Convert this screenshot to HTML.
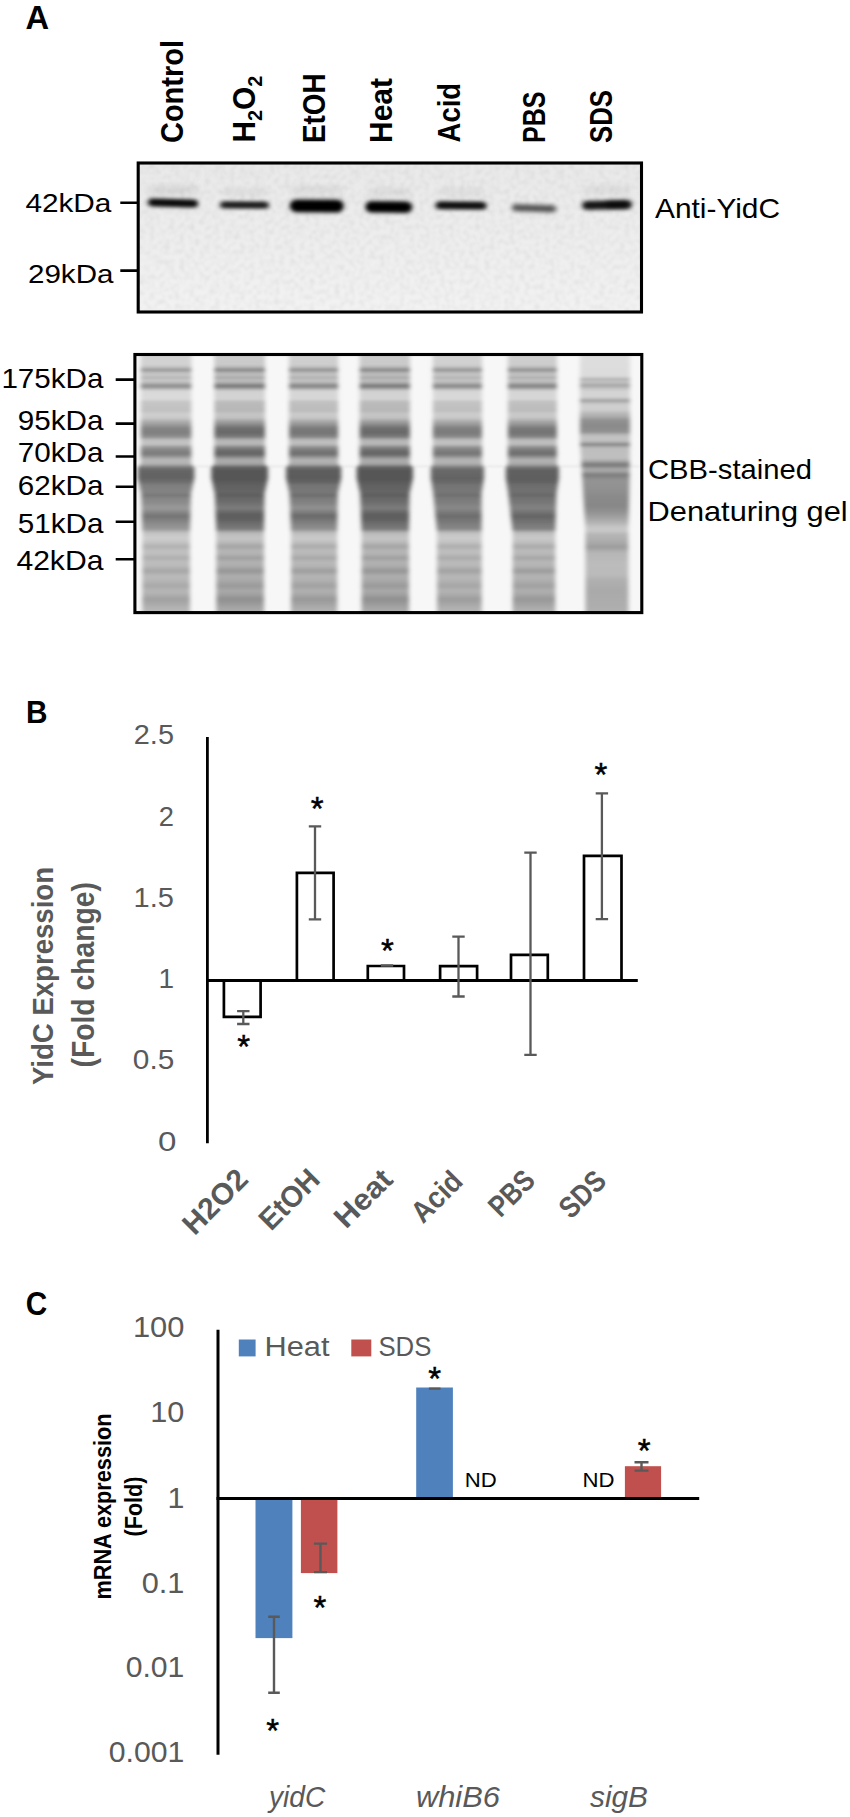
<!DOCTYPE html>
<html lang="en"><head><meta charset="utf-8"><title>Figure</title>
<style>
html,body{margin:0;padding:0;background:#fff;overflow:hidden}
svg{display:block}
text{font-family:"Liberation Sans",sans-serif}
.b{font-weight:bold}
.g{fill:#595959}
.i{font-style:italic}
</style></head><body>
<svg width="850" height="1817" viewBox="0 0 850 1817">
<defs>
<filter id="bl1" x="-20%" y="-150%" width="140%" height="400%"><feGaussianBlur stdDeviation="2.6 1.9"/></filter>
<filter id="bl2" x="-30%" y="-300%" width="160%" height="700%"><feGaussianBlur stdDeviation="4 3"/></filter>
<filter id="bl3" x="-5%" y="-5%" width="110%" height="110%"><feGaussianBlur stdDeviation="1.9 1.3"/></filter>
<filter id="bl4" x="-20%" y="-50%" width="140%" height="200%"><feGaussianBlur stdDeviation="2.5 1.5"/></filter>
<filter id="noise" x="0" y="0" width="100%" height="100%">
<feTurbulence type="fractalNoise" baseFrequency="0.2" numOctaves="2" seed="4" result="n"/>
<feColorMatrix in="n" type="matrix" values="0 0 0 0 0  0 0 0 0 0  0 0 0 0 0  1.6 0 0 0 -0.62"/><feGaussianBlur stdDeviation="1.0"/>
</filter>
<linearGradient id="bg1" x1="0" y1="0" x2="0" y2="1"><stop offset="0" stop-color="#e9e9e9"/><stop offset="0.45" stop-color="#ededed"/><stop offset="1" stop-color="#f2f2f2"/></linearGradient>
<clipPath id="c1"><rect x="138.2" y="163" width="503.3" height="149"/></clipPath>
<clipPath id="c2"><rect x="134.9" y="354.5" width="506.9" height="258.1"/></clipPath>
<linearGradient id="lg1" gradientUnits="userSpaceOnUse" x1="0" y1="354.5" x2="0" y2="612.6"><stop offset="0.0019" stop-color="#d3d3d3"/><stop offset="0.0407" stop-color="#d2d2d2"/><stop offset="0.0504" stop-color="#bcbcbc"/><stop offset="0.0601" stop-color="#969696"/><stop offset="0.0697" stop-color="#bcbcbc"/><stop offset="0.0794" stop-color="#cacaca"/><stop offset="0.0899" stop-color="#b5b5b5"/><stop offset="0.1007" stop-color="#cacaca"/><stop offset="0.1104" stop-color="#b5b5b5"/><stop offset="0.1220" stop-color="#898989"/><stop offset="0.1337" stop-color="#b5b5b5"/><stop offset="0.1414" stop-color="#d9d9d9"/><stop offset="0.1724" stop-color="#dadada"/><stop offset="0.1840" stop-color="#c5c5c5"/><stop offset="0.2189" stop-color="#c1c1c1"/><stop offset="0.2305" stop-color="#d0d0d0"/><stop offset="0.2460" stop-color="#cacaca"/><stop offset="0.2577" stop-color="#b1b1b1"/><stop offset="0.2731" stop-color="#9a9a9a"/><stop offset="0.2848" stop-color="#858585"/><stop offset="0.3041" stop-color="#7f7f7f"/><stop offset="0.3196" stop-color="#919191"/><stop offset="0.3313" stop-color="#c0c0c0"/><stop offset="0.3468" stop-color="#c5c5c5"/><stop offset="0.3584" stop-color="#9a9a9a"/><stop offset="0.3700" stop-color="#858585"/><stop offset="0.3855" stop-color="#7a7a7a"/><stop offset="0.3971" stop-color="#9a9a9a"/><stop offset="0.4088" stop-color="#bababa"/><stop offset="0.4243" stop-color="#b1b1b1"/><stop offset="0.4359" stop-color="#7d7d7d"/><stop offset="0.4475" stop-color="#666666"/><stop offset="0.4785" stop-color="#636363"/><stop offset="0.4940" stop-color="#6e6e6e"/><stop offset="0.5056" stop-color="#7f7f7f"/><stop offset="0.5327" stop-color="#848484"/><stop offset="0.5459" stop-color="#777777"/><stop offset="0.5560" stop-color="#858585"/><stop offset="0.5754" stop-color="#8d8d8d"/><stop offset="0.5947" stop-color="#9a9a9a"/><stop offset="0.6102" stop-color="#888888"/><stop offset="0.6257" stop-color="#747474"/><stop offset="0.6412" stop-color="#808080"/><stop offset="0.6567" stop-color="#8d8d8d"/><stop offset="0.6761" stop-color="#999999"/><stop offset="0.6916" stop-color="#c3c3c3"/><stop offset="0.7110" stop-color="#cecece"/><stop offset="0.7265" stop-color="#c5c5c5"/><stop offset="0.7439" stop-color="#b1b1b1"/><stop offset="0.7613" stop-color="#c1c1c1"/><stop offset="0.7730" stop-color="#bebebe"/><stop offset="0.7885" stop-color="#aeaeae"/><stop offset="0.8040" stop-color="#bebebe"/><stop offset="0.8194" stop-color="#bababa"/><stop offset="0.8388" stop-color="#a5a5a5"/><stop offset="0.8582" stop-color="#bababa"/><stop offset="0.8737" stop-color="#b7b7b7"/><stop offset="0.8969" stop-color="#a8a8a8"/><stop offset="0.9163" stop-color="#b7b7b7"/><stop offset="0.9318" stop-color="#aeaeae"/><stop offset="0.9473" stop-color="#a0a0a0"/><stop offset="0.9667" stop-color="#aaaaaa"/><stop offset="0.9822" stop-color="#b3b3b3"/><stop offset="1.0015" stop-color="#b9b9b9"/></linearGradient>
<linearGradient id="lg2" gradientUnits="userSpaceOnUse" x1="0" y1="354.5" x2="0" y2="612.6"><stop offset="0.0019" stop-color="#cccccc"/><stop offset="0.0407" stop-color="#cacaca"/><stop offset="0.0504" stop-color="#b0b0b0"/><stop offset="0.0601" stop-color="#848484"/><stop offset="0.0697" stop-color="#b0b0b0"/><stop offset="0.0794" stop-color="#c0c0c0"/><stop offset="0.0899" stop-color="#a8a8a8"/><stop offset="0.1007" stop-color="#c0c0c0"/><stop offset="0.1104" stop-color="#a8a8a8"/><stop offset="0.1220" stop-color="#747474"/><stop offset="0.1337" stop-color="#a8a8a8"/><stop offset="0.1414" stop-color="#d2d2d2"/><stop offset="0.1724" stop-color="#d4d4d4"/><stop offset="0.1840" stop-color="#bbbbbb"/><stop offset="0.2189" stop-color="#b7b7b7"/><stop offset="0.2305" stop-color="#c7c7c7"/><stop offset="0.2460" stop-color="#c1c1c1"/><stop offset="0.2577" stop-color="#a4a4a4"/><stop offset="0.2731" stop-color="#888888"/><stop offset="0.2848" stop-color="#6f6f6f"/><stop offset="0.3041" stop-color="#696969"/><stop offset="0.3196" stop-color="#7d7d7d"/><stop offset="0.3313" stop-color="#b4b4b4"/><stop offset="0.3468" stop-color="#bbbbbb"/><stop offset="0.3584" stop-color="#888888"/><stop offset="0.3700" stop-color="#6f6f6f"/><stop offset="0.3855" stop-color="#626262"/><stop offset="0.3971" stop-color="#888888"/><stop offset="0.4088" stop-color="#aeaeae"/><stop offset="0.4243" stop-color="#a4a4a4"/><stop offset="0.4359" stop-color="#666666"/><stop offset="0.4475" stop-color="#585858"/><stop offset="0.4785" stop-color="#565656"/><stop offset="0.4940" stop-color="#5a5a5a"/><stop offset="0.5056" stop-color="#616161"/><stop offset="0.5327" stop-color="#666666"/><stop offset="0.5459" stop-color="#5e5e5e"/><stop offset="0.5560" stop-color="#676767"/><stop offset="0.5754" stop-color="#6f6f6f"/><stop offset="0.5947" stop-color="#7d7d7d"/><stop offset="0.6102" stop-color="#6a6a6a"/><stop offset="0.6257" stop-color="#5c5c5c"/><stop offset="0.6412" stop-color="#626262"/><stop offset="0.6567" stop-color="#6f6f6f"/><stop offset="0.6761" stop-color="#7b7b7b"/><stop offset="0.6916" stop-color="#b9b9b9"/><stop offset="0.7110" stop-color="#c5c5c5"/><stop offset="0.7265" stop-color="#bbbbbb"/><stop offset="0.7439" stop-color="#a4a4a4"/><stop offset="0.7613" stop-color="#b7b7b7"/><stop offset="0.7730" stop-color="#b2b2b2"/><stop offset="0.7885" stop-color="#9f9f9f"/><stop offset="0.8040" stop-color="#b2b2b2"/><stop offset="0.8194" stop-color="#aeaeae"/><stop offset="0.8388" stop-color="#959595"/><stop offset="0.8582" stop-color="#aeaeae"/><stop offset="0.8737" stop-color="#aaaaaa"/><stop offset="0.8969" stop-color="#999999"/><stop offset="0.9163" stop-color="#aaaaaa"/><stop offset="0.9318" stop-color="#9f9f9f"/><stop offset="0.9473" stop-color="#8f8f8f"/><stop offset="0.9667" stop-color="#9b9b9b"/><stop offset="0.9822" stop-color="#a6a6a6"/><stop offset="1.0015" stop-color="#acacac"/></linearGradient>
<linearGradient id="lg3" gradientUnits="userSpaceOnUse" x1="0" y1="354.5" x2="0" y2="612.6"><stop offset="0.0019" stop-color="#d0d0d0"/><stop offset="0.0407" stop-color="#cecece"/><stop offset="0.0504" stop-color="#b7b7b7"/><stop offset="0.0601" stop-color="#8e8e8e"/><stop offset="0.0697" stop-color="#b7b7b7"/><stop offset="0.0794" stop-color="#c5c5c5"/><stop offset="0.0899" stop-color="#afafaf"/><stop offset="0.1007" stop-color="#c5c5c5"/><stop offset="0.1104" stop-color="#afafaf"/><stop offset="0.1220" stop-color="#7f7f7f"/><stop offset="0.1337" stop-color="#afafaf"/><stop offset="0.1414" stop-color="#d6d6d6"/><stop offset="0.1724" stop-color="#d7d7d7"/><stop offset="0.1840" stop-color="#c0c0c0"/><stop offset="0.2189" stop-color="#bcbcbc"/><stop offset="0.2305" stop-color="#cccccc"/><stop offset="0.2460" stop-color="#c6c6c6"/><stop offset="0.2577" stop-color="#ababab"/><stop offset="0.2731" stop-color="#929292"/><stop offset="0.2848" stop-color="#7b7b7b"/><stop offset="0.3041" stop-color="#757575"/><stop offset="0.3196" stop-color="#878787"/><stop offset="0.3313" stop-color="#bababa"/><stop offset="0.3468" stop-color="#c0c0c0"/><stop offset="0.3584" stop-color="#929292"/><stop offset="0.3700" stop-color="#7b7b7b"/><stop offset="0.3855" stop-color="#6e6e6e"/><stop offset="0.3971" stop-color="#929292"/><stop offset="0.4088" stop-color="#b5b5b5"/><stop offset="0.4243" stop-color="#ababab"/><stop offset="0.4359" stop-color="#737373"/><stop offset="0.4475" stop-color="#5e5e5e"/><stop offset="0.4785" stop-color="#5c5c5c"/><stop offset="0.4940" stop-color="#626262"/><stop offset="0.5056" stop-color="#747474"/><stop offset="0.5327" stop-color="#797979"/><stop offset="0.5459" stop-color="#6c6c6c"/><stop offset="0.5560" stop-color="#7b7b7b"/><stop offset="0.5754" stop-color="#838383"/><stop offset="0.5947" stop-color="#929292"/><stop offset="0.6102" stop-color="#7e7e7e"/><stop offset="0.6257" stop-color="#696969"/><stop offset="0.6412" stop-color="#767676"/><stop offset="0.6567" stop-color="#838383"/><stop offset="0.6761" stop-color="#909090"/><stop offset="0.6916" stop-color="#bebebe"/><stop offset="0.7110" stop-color="#cacaca"/><stop offset="0.7265" stop-color="#c0c0c0"/><stop offset="0.7439" stop-color="#ababab"/><stop offset="0.7613" stop-color="#bcbcbc"/><stop offset="0.7730" stop-color="#b8b8b8"/><stop offset="0.7885" stop-color="#a7a7a7"/><stop offset="0.8040" stop-color="#b8b8b8"/><stop offset="0.8194" stop-color="#b5b5b5"/><stop offset="0.8388" stop-color="#9d9d9d"/><stop offset="0.8582" stop-color="#b5b5b5"/><stop offset="0.8737" stop-color="#b1b1b1"/><stop offset="0.8969" stop-color="#a1a1a1"/><stop offset="0.9163" stop-color="#b1b1b1"/><stop offset="0.9318" stop-color="#a7a7a7"/><stop offset="0.9473" stop-color="#989898"/><stop offset="0.9667" stop-color="#a3a3a3"/><stop offset="0.9822" stop-color="#adadad"/><stop offset="1.0015" stop-color="#b3b3b3"/></linearGradient>
<linearGradient id="lg4" gradientUnits="userSpaceOnUse" x1="0" y1="354.5" x2="0" y2="612.6"><stop offset="0.0019" stop-color="#cccccc"/><stop offset="0.0407" stop-color="#cacaca"/><stop offset="0.0504" stop-color="#b0b0b0"/><stop offset="0.0601" stop-color="#848484"/><stop offset="0.0697" stop-color="#b0b0b0"/><stop offset="0.0794" stop-color="#c0c0c0"/><stop offset="0.0899" stop-color="#a8a8a8"/><stop offset="0.1007" stop-color="#c0c0c0"/><stop offset="0.1104" stop-color="#a8a8a8"/><stop offset="0.1220" stop-color="#747474"/><stop offset="0.1337" stop-color="#a8a8a8"/><stop offset="0.1414" stop-color="#d2d2d2"/><stop offset="0.1724" stop-color="#d4d4d4"/><stop offset="0.1840" stop-color="#bbbbbb"/><stop offset="0.2189" stop-color="#b7b7b7"/><stop offset="0.2305" stop-color="#c7c7c7"/><stop offset="0.2460" stop-color="#c1c1c1"/><stop offset="0.2577" stop-color="#a4a4a4"/><stop offset="0.2731" stop-color="#888888"/><stop offset="0.2848" stop-color="#6f6f6f"/><stop offset="0.3041" stop-color="#696969"/><stop offset="0.3196" stop-color="#7d7d7d"/><stop offset="0.3313" stop-color="#b4b4b4"/><stop offset="0.3468" stop-color="#bbbbbb"/><stop offset="0.3584" stop-color="#888888"/><stop offset="0.3700" stop-color="#6f6f6f"/><stop offset="0.3855" stop-color="#626262"/><stop offset="0.3971" stop-color="#888888"/><stop offset="0.4088" stop-color="#aeaeae"/><stop offset="0.4243" stop-color="#a4a4a4"/><stop offset="0.4359" stop-color="#666666"/><stop offset="0.4475" stop-color="#585858"/><stop offset="0.4785" stop-color="#565656"/><stop offset="0.4940" stop-color="#5a5a5a"/><stop offset="0.5056" stop-color="#616161"/><stop offset="0.5327" stop-color="#666666"/><stop offset="0.5459" stop-color="#5e5e5e"/><stop offset="0.5560" stop-color="#676767"/><stop offset="0.5754" stop-color="#6f6f6f"/><stop offset="0.5947" stop-color="#7d7d7d"/><stop offset="0.6102" stop-color="#6a6a6a"/><stop offset="0.6257" stop-color="#5c5c5c"/><stop offset="0.6412" stop-color="#626262"/><stop offset="0.6567" stop-color="#6f6f6f"/><stop offset="0.6761" stop-color="#7b7b7b"/><stop offset="0.6916" stop-color="#b9b9b9"/><stop offset="0.7110" stop-color="#c5c5c5"/><stop offset="0.7265" stop-color="#bbbbbb"/><stop offset="0.7439" stop-color="#a4a4a4"/><stop offset="0.7613" stop-color="#b7b7b7"/><stop offset="0.7730" stop-color="#b2b2b2"/><stop offset="0.7885" stop-color="#9f9f9f"/><stop offset="0.8040" stop-color="#b2b2b2"/><stop offset="0.8194" stop-color="#aeaeae"/><stop offset="0.8388" stop-color="#959595"/><stop offset="0.8582" stop-color="#aeaeae"/><stop offset="0.8737" stop-color="#aaaaaa"/><stop offset="0.8969" stop-color="#999999"/><stop offset="0.9163" stop-color="#aaaaaa"/><stop offset="0.9318" stop-color="#9f9f9f"/><stop offset="0.9473" stop-color="#8f8f8f"/><stop offset="0.9667" stop-color="#9b9b9b"/><stop offset="0.9822" stop-color="#a6a6a6"/><stop offset="1.0015" stop-color="#acacac"/></linearGradient>
<linearGradient id="lg5" gradientUnits="userSpaceOnUse" x1="0" y1="354.5" x2="0" y2="612.6"><stop offset="0.0019" stop-color="#d2d2d2"/><stop offset="0.0407" stop-color="#d0d0d0"/><stop offset="0.0504" stop-color="#b9b9b9"/><stop offset="0.0601" stop-color="#929292"/><stop offset="0.0697" stop-color="#b9b9b9"/><stop offset="0.0794" stop-color="#c7c7c7"/><stop offset="0.0899" stop-color="#b2b2b2"/><stop offset="0.1007" stop-color="#c7c7c7"/><stop offset="0.1104" stop-color="#b2b2b2"/><stop offset="0.1220" stop-color="#848484"/><stop offset="0.1337" stop-color="#b2b2b2"/><stop offset="0.1414" stop-color="#d7d7d7"/><stop offset="0.1724" stop-color="#d9d9d9"/><stop offset="0.1840" stop-color="#c3c3c3"/><stop offset="0.2189" stop-color="#bfbfbf"/><stop offset="0.2305" stop-color="#cecece"/><stop offset="0.2460" stop-color="#c8c8c8"/><stop offset="0.2577" stop-color="#aeaeae"/><stop offset="0.2731" stop-color="#969696"/><stop offset="0.2848" stop-color="#808080"/><stop offset="0.3041" stop-color="#7a7a7a"/><stop offset="0.3196" stop-color="#8c8c8c"/><stop offset="0.3313" stop-color="#bdbdbd"/><stop offset="0.3468" stop-color="#c3c3c3"/><stop offset="0.3584" stop-color="#969696"/><stop offset="0.3700" stop-color="#808080"/><stop offset="0.3855" stop-color="#747474"/><stop offset="0.3971" stop-color="#969696"/><stop offset="0.4088" stop-color="#b7b7b7"/><stop offset="0.4243" stop-color="#aeaeae"/><stop offset="0.4359" stop-color="#808080"/><stop offset="0.4475" stop-color="#686868"/><stop offset="0.4785" stop-color="#646464"/><stop offset="0.4940" stop-color="#676767"/><stop offset="0.5056" stop-color="#747474"/><stop offset="0.5327" stop-color="#787878"/><stop offset="0.5459" stop-color="#6e6e6e"/><stop offset="0.5560" stop-color="#797979"/><stop offset="0.5754" stop-color="#7f7f7f"/><stop offset="0.5947" stop-color="#898989"/><stop offset="0.6102" stop-color="#7b7b7b"/><stop offset="0.6257" stop-color="#6c6c6c"/><stop offset="0.6412" stop-color="#757575"/><stop offset="0.6567" stop-color="#7f7f7f"/><stop offset="0.6761" stop-color="#888888"/><stop offset="0.6916" stop-color="#c1c1c1"/><stop offset="0.7110" stop-color="#cccccc"/><stop offset="0.7265" stop-color="#c3c3c3"/><stop offset="0.7439" stop-color="#aeaeae"/><stop offset="0.7613" stop-color="#bfbfbf"/><stop offset="0.7730" stop-color="#bbbbbb"/><stop offset="0.7885" stop-color="#aaaaaa"/><stop offset="0.8040" stop-color="#bbbbbb"/><stop offset="0.8194" stop-color="#b7b7b7"/><stop offset="0.8388" stop-color="#a1a1a1"/><stop offset="0.8582" stop-color="#b7b7b7"/><stop offset="0.8737" stop-color="#b4b4b4"/><stop offset="0.8969" stop-color="#a5a5a5"/><stop offset="0.9163" stop-color="#b4b4b4"/><stop offset="0.9318" stop-color="#aaaaaa"/><stop offset="0.9473" stop-color="#9c9c9c"/><stop offset="0.9667" stop-color="#a7a7a7"/><stop offset="0.9822" stop-color="#b0b0b0"/><stop offset="1.0015" stop-color="#b6b6b6"/></linearGradient>
<linearGradient id="lg6" gradientUnits="userSpaceOnUse" x1="0" y1="354.5" x2="0" y2="612.6"><stop offset="0.0019" stop-color="#cfcfcf"/><stop offset="0.0407" stop-color="#cdcdcd"/><stop offset="0.0504" stop-color="#b6b6b6"/><stop offset="0.0601" stop-color="#8d8d8d"/><stop offset="0.0697" stop-color="#b6b6b6"/><stop offset="0.0794" stop-color="#c5c5c5"/><stop offset="0.0899" stop-color="#aeaeae"/><stop offset="0.1007" stop-color="#c5c5c5"/><stop offset="0.1104" stop-color="#aeaeae"/><stop offset="0.1220" stop-color="#7e7e7e"/><stop offset="0.1337" stop-color="#aeaeae"/><stop offset="0.1414" stop-color="#d5d5d5"/><stop offset="0.1724" stop-color="#d7d7d7"/><stop offset="0.1840" stop-color="#c0c0c0"/><stop offset="0.2189" stop-color="#bcbcbc"/><stop offset="0.2305" stop-color="#cbcbcb"/><stop offset="0.2460" stop-color="#c5c5c5"/><stop offset="0.2577" stop-color="#aaaaaa"/><stop offset="0.2731" stop-color="#919191"/><stop offset="0.2848" stop-color="#7a7a7a"/><stop offset="0.3041" stop-color="#737373"/><stop offset="0.3196" stop-color="#868686"/><stop offset="0.3313" stop-color="#bababa"/><stop offset="0.3468" stop-color="#c0c0c0"/><stop offset="0.3584" stop-color="#919191"/><stop offset="0.3700" stop-color="#7a7a7a"/><stop offset="0.3855" stop-color="#6d6d6d"/><stop offset="0.3971" stop-color="#919191"/><stop offset="0.4088" stop-color="#b4b4b4"/><stop offset="0.4243" stop-color="#aaaaaa"/><stop offset="0.4359" stop-color="#7a7a7a"/><stop offset="0.4475" stop-color="#616161"/><stop offset="0.4785" stop-color="#5f5f5f"/><stop offset="0.4940" stop-color="#616161"/><stop offset="0.5056" stop-color="#6d6d6d"/><stop offset="0.5327" stop-color="#717171"/><stop offset="0.5459" stop-color="#676767"/><stop offset="0.5560" stop-color="#727272"/><stop offset="0.5754" stop-color="#787878"/><stop offset="0.5947" stop-color="#838383"/><stop offset="0.6102" stop-color="#757575"/><stop offset="0.6257" stop-color="#646464"/><stop offset="0.6412" stop-color="#6e6e6e"/><stop offset="0.6567" stop-color="#787878"/><stop offset="0.6761" stop-color="#828282"/><stop offset="0.6916" stop-color="#bebebe"/><stop offset="0.7110" stop-color="#c9c9c9"/><stop offset="0.7265" stop-color="#c0c0c0"/><stop offset="0.7439" stop-color="#aaaaaa"/><stop offset="0.7613" stop-color="#bcbcbc"/><stop offset="0.7730" stop-color="#b8b8b8"/><stop offset="0.7885" stop-color="#a6a6a6"/><stop offset="0.8040" stop-color="#b8b8b8"/><stop offset="0.8194" stop-color="#b4b4b4"/><stop offset="0.8388" stop-color="#9c9c9c"/><stop offset="0.8582" stop-color="#b4b4b4"/><stop offset="0.8737" stop-color="#b0b0b0"/><stop offset="0.8969" stop-color="#a0a0a0"/><stop offset="0.9163" stop-color="#b0b0b0"/><stop offset="0.9318" stop-color="#a6a6a6"/><stop offset="0.9473" stop-color="#979797"/><stop offset="0.9667" stop-color="#a2a2a2"/><stop offset="0.9822" stop-color="#acacac"/><stop offset="1.0015" stop-color="#b2b2b2"/></linearGradient>
<linearGradient id="lg7" gradientUnits="userSpaceOnUse" x1="0" y1="354.5" x2="0" y2="612.6"><stop offset="0.0019" stop-color="#dedede"/><stop offset="0.0833" stop-color="#dcdcdc"/><stop offset="0.0910" stop-color="#c4c4c4"/><stop offset="0.0969" stop-color="#b2b2b2"/><stop offset="0.1027" stop-color="#c4c4c4"/><stop offset="0.1104" stop-color="#bcbcbc"/><stop offset="0.1197" stop-color="#a6a6a6"/><stop offset="0.1298" stop-color="#bebebe"/><stop offset="0.1414" stop-color="#d4d4d4"/><stop offset="0.1647" stop-color="#d4d4d4"/><stop offset="0.1724" stop-color="#bababa"/><stop offset="0.1790" stop-color="#9e9e9e"/><stop offset="0.1860" stop-color="#bababa"/><stop offset="0.1957" stop-color="#d0d0d0"/><stop offset="0.2150" stop-color="#cecece"/><stop offset="0.2267" stop-color="#bababa"/><stop offset="0.2422" stop-color="#aaaaaa"/><stop offset="0.2538" stop-color="#929292"/><stop offset="0.2770" stop-color="#8a8a8a"/><stop offset="0.3003" stop-color="#929292"/><stop offset="0.3100" stop-color="#b4b4b4"/><stop offset="0.3196" stop-color="#c4c4c4"/><stop offset="0.3351" stop-color="#c0c0c0"/><stop offset="0.3429" stop-color="#a0a0a0"/><stop offset="0.3487" stop-color="#868686"/><stop offset="0.3545" stop-color="#a0a0a0"/><stop offset="0.3642" stop-color="#bebebe"/><stop offset="0.4010" stop-color="#c0c0c0"/><stop offset="0.4126" stop-color="#aaaaaa"/><stop offset="0.4204" stop-color="#8a8a8a"/><stop offset="0.4281" stop-color="#7a7a7a"/><stop offset="0.4359" stop-color="#8c8c8c"/><stop offset="0.4436" stop-color="#a8a8a8"/><stop offset="0.4533" stop-color="#a4a4a4"/><stop offset="0.4611" stop-color="#888888"/><stop offset="0.4688" stop-color="#7e7e7e"/><stop offset="0.4785" stop-color="#8c8c8c"/><stop offset="0.4901" stop-color="#949494"/><stop offset="0.5250" stop-color="#909090"/><stop offset="0.5521" stop-color="#8a8a8a"/><stop offset="0.5870" stop-color="#888888"/><stop offset="0.6102" stop-color="#929292"/><stop offset="0.6335" stop-color="#a4a4a4"/><stop offset="0.6528" stop-color="#b4b4b4"/><stop offset="0.6683" stop-color="#c6c6c6"/><stop offset="0.6838" stop-color="#c8c8c8"/><stop offset="0.6955" stop-color="#b6b6b6"/><stop offset="0.7187" stop-color="#aeaeae"/><stop offset="0.7342" stop-color="#a6a6a6"/><stop offset="0.7458" stop-color="#9c9c9c"/><stop offset="0.7575" stop-color="#aaaaaa"/><stop offset="0.7691" stop-color="#b6b6b6"/><stop offset="0.8156" stop-color="#bcbcbc"/><stop offset="0.8543" stop-color="#bababa"/><stop offset="0.8737" stop-color="#b0b0b0"/><stop offset="0.9124" stop-color="#aaaaaa"/><stop offset="0.9512" stop-color="#acacac"/><stop offset="1.0015" stop-color="#b0b0b0"/></linearGradient>
</defs>
<text class="b" x="25.4" y="28.5" font-size="34" textLength="23.6" lengthAdjust="spacingAndGlyphs">A</text>
<text class="b" transform="translate(183.3 143.0) rotate(-90)" font-size="31" textLength="103.0" lengthAdjust="spacingAndGlyphs">Control</text>
<text class="b" transform="translate(255.1 142.6) rotate(-90)" font-size="31" textLength="67" lengthAdjust="spacingAndGlyphs">H<tspan font-size="20.5" dy="7">2</tspan><tspan dy="-7">O</tspan><tspan font-size="20.5" dy="7">2</tspan></text>
<text class="b" transform="translate(325.0 143.0) rotate(-90)" font-size="31" textLength="69.5" lengthAdjust="spacingAndGlyphs">EtOH</text>
<text class="b" transform="translate(392.0 143.0) rotate(-90)" font-size="31" textLength="65.0" lengthAdjust="spacingAndGlyphs">Heat</text>
<text class="b" transform="translate(460.3 142.4) rotate(-90)" font-size="31" textLength="59.5" lengthAdjust="spacingAndGlyphs">Acid</text>
<text class="b" transform="translate(544.7 143.0) rotate(-90)" font-size="31" textLength="51.5" lengthAdjust="spacingAndGlyphs">PBS</text>
<text class="b" transform="translate(611.6 143.0) rotate(-90)" font-size="31" textLength="53.0" lengthAdjust="spacingAndGlyphs">SDS</text>
<rect x="138.2" y="163" width="503.3" height="149" fill="url(#bg1)"/>
<g clip-path="url(#c1)">
<rect x="138.2" y="163" width="503.3" height="149" filter="url(#noise)" fill="#000" opacity="0.07"/>
<rect x="150.0" y="186.0" width="46.0" height="8.0" fill="#000" opacity="0.09" filter="url(#bl2)"/>
<rect x="222.0" y="188.5" width="46.0" height="7.0" fill="#000" opacity="0.06" filter="url(#bl2)"/>
<rect x="292.0" y="186.5" width="50.0" height="7.0" fill="#000" opacity="0.08" filter="url(#bl2)"/>
<rect x="368.0" y="188.5" width="42.0" height="7.0" fill="#000" opacity="0.07" filter="url(#bl2)"/>
<rect x="438.0" y="188.5" width="46.0" height="7.0" fill="#000" opacity="0.06" filter="url(#bl2)"/>
<rect x="585.0" y="186.5" width="45.0" height="7.0" fill="#000" opacity="0.07" filter="url(#bl2)"/>
<rect x="148.0" y="199.5" width="50.0" height="7.0" rx="3.5" fill="#000" opacity="1.00" filter="url(#bl1)" transform="rotate(1.60 173.0 203.0)"/>
<rect x="151.0" y="201.2" width="44.0" height="3.5" rx="1.8" fill="#000" opacity="0.70" filter="url(#bl1)" transform="rotate(1.60 173.0 203.0)"/>
<rect x="220.0" y="201.9" width="49.0" height="6.2" rx="3.1" fill="#000" opacity="0.90" filter="url(#bl1)" transform="rotate(0.30 244.5 205.0)"/>
<rect x="223.0" y="203.4" width="43.0" height="3.1" rx="1.6" fill="#000" opacity="0.70" filter="url(#bl1)" transform="rotate(0.30 244.5 205.0)"/>
<rect x="290.0" y="199.8" width="53.5" height="12.5" rx="6.2" fill="#000" opacity="1.00" filter="url(#bl1)" transform="rotate(0.30 316.8 206.0)"/>
<rect x="293.0" y="202.9" width="47.5" height="6.2" rx="3.1" fill="#000" opacity="0.70" filter="url(#bl1)" transform="rotate(0.30 316.8 206.0)"/>
<rect x="365.5" y="201.5" width="46.5" height="11.0" rx="5.5" fill="#000" opacity="1.00" filter="url(#bl1)" transform="rotate(0.60 388.8 207.0)"/>
<rect x="368.5" y="204.2" width="40.5" height="5.5" rx="2.8" fill="#000" opacity="0.70" filter="url(#bl1)" transform="rotate(0.60 388.8 207.0)"/>
<rect x="435.5" y="202.1" width="51.0" height="7.0" rx="3.5" fill="#000" opacity="0.95" filter="url(#bl1)" transform="rotate(0.50 461.0 205.6)"/>
<rect x="438.5" y="203.8" width="45.0" height="3.5" rx="1.8" fill="#000" opacity="0.70" filter="url(#bl1)" transform="rotate(0.50 461.0 205.6)"/>
<rect x="512.0" y="204.7" width="44.0" height="7.0" rx="3.5" fill="#000" opacity="0.66" filter="url(#bl1)" transform="rotate(1.80 534.0 208.2)"/>
<rect x="582.0" y="200.8" width="50.0" height="8.5" rx="4.2" fill="#000" opacity="0.85" filter="url(#bl1)" transform="rotate(-1.20 607.0 205.0)"/>
<rect x="585.0" y="202.9" width="44.0" height="4.2" rx="2.1" fill="#000" opacity="0.70" filter="url(#bl1)" transform="rotate(-1.20 607.0 205.0)"/>
<rect x="606" y="201.5" width="22" height="6" rx="3" fill="#000" opacity="0.55" filter="url(#bl1)"/>
</g>
<rect x="138.2" y="163" width="503.3" height="149" fill="none" stroke="#000" stroke-width="3.1"/>
<path d="M120.3 202.8H137M120.3 270.6H137" stroke="#000" stroke-width="2.6" fill="none"/>
<text x="111.4" y="211.6" font-size="26.6" text-anchor="end" textLength="86" lengthAdjust="spacingAndGlyphs">42kDa</text>
<text x="113.4" y="282.5" font-size="26.6" text-anchor="end" textLength="85.4" lengthAdjust="spacingAndGlyphs">29kDa</text>
<text x="655" y="217.8" font-size="27.8" textLength="125" lengthAdjust="spacingAndGlyphs">Anti-YidC</text>
<rect x="134.9" y="354.5" width="506.9" height="258.1" fill="#f7f7f7"/>
<g clip-path="url(#c2)"><g filter="url(#bl3)">
<rect x="136" y="465.6" width="504" height="1.6" fill="#000" opacity="0.07"/>
<path d="M140.7 352.0L140.7 463.0L137.7 468.0L137.7 478.0L141.2 494.0L142.3 532.0L142.3 615.0L190.0 615.0L190.0 532.0L190.9 494.0L194.4 478.0L194.4 468.0L191.4 463.0L191.4 352.0Z" fill="url(#lg1)"/>
<path d="M214.3 352.0L214.3 463.0L211.3 468.0L211.3 478.0L214.8 494.0L216.3 532.0L216.3 615.0L264.0 615.0L264.0 532.0L264.5 494.0L268.0 478.0L268.0 468.0L265.0 463.0L265.0 352.0Z" fill="url(#lg2)"/>
<path d="M289.0 352.0L289.0 463.0L286.0 468.0L286.0 478.0L289.5 494.0L291.0 532.0L291.0 615.0L337.2 615.0L337.2 532.0L337.7 494.0L341.2 478.0L341.2 468.0L338.2 463.0L338.2 352.0Z" fill="url(#lg3)"/>
<path d="M359.6 352.0L359.6 463.0L356.6 468.0L356.6 478.0L360.1 494.0L361.6 532.0L361.6 615.0L409.0 615.0L409.0 532.0L409.5 494.0L413.0 478.0L413.0 468.0L410.0 463.0L410.0 352.0Z" fill="url(#lg4)"/>
<path d="M432.8 352.0L432.8 463.0L430.8 468.0L430.8 478.0L433.3 494.0L437.0 532.0L437.0 615.0L481.7 615.0L481.7 532.0L481.5 494.0L484.0 478.0L484.0 468.0L482.0 463.0L482.0 352.0Z" fill="url(#lg5)"/>
<path d="M507.8 352.0L507.8 463.0L505.8 468.0L505.8 478.0L508.3 494.0L512.6 532.0L512.6 615.0L555.3 615.0L555.3 532.0L556.4 494.0L558.9 478.0L558.9 468.0L556.9 463.0L556.9 352.0Z" fill="url(#lg6)"/>
<path d="M579.9 352.0L579.9 440.0L582.4 480.0L585.4 530.0L585.4 615.0L628.4 615.0L628.4 530.0L629.5 480.0L630.0 440.0L630.0 352.0Z" fill="url(#lg7)"/>
</g>
</g>
<rect x="134.9" y="354.5" width="506.9" height="258.1" fill="none" stroke="#000" stroke-width="3.1"/>
<path d="M115.7 379.6H134M115.7 423.6H134M115.7 456.5H134M115.7 486.8H134M115.7 521.8H134M115.7 559.3H134" stroke="#000" stroke-width="2.6" fill="none"/>
<text x="103.4" y="388.4" font-size="27.8" text-anchor="end" textLength="102.0" lengthAdjust="spacingAndGlyphs">175kDa</text>
<text x="103.4" y="429.8" font-size="27.8" text-anchor="end" textLength="85.6" lengthAdjust="spacingAndGlyphs">95kDa</text>
<text x="103.4" y="462.2" font-size="27.8" text-anchor="end" textLength="85.6" lengthAdjust="spacingAndGlyphs">70kDa</text>
<text x="103.4" y="494.6" font-size="27.8" text-anchor="end" textLength="85.6" lengthAdjust="spacingAndGlyphs">62kDa</text>
<text x="103.4" y="532.6" font-size="27.8" text-anchor="end" textLength="85.6" lengthAdjust="spacingAndGlyphs">51kDa</text>
<text x="103.4" y="570.4" font-size="27.8" text-anchor="end" textLength="87.0" lengthAdjust="spacingAndGlyphs">42kDa</text>
<text x="648" y="478.7" font-size="28" textLength="164" lengthAdjust="spacingAndGlyphs">CBB-stained</text>
<text x="647.6" y="521.1" font-size="28" textLength="200" lengthAdjust="spacingAndGlyphs">Denaturing gel</text>
<text class="b" x="26" y="722.9" font-size="32" textLength="21.5" lengthAdjust="spacingAndGlyphs">B</text>
<text class="g" x="174.0" y="744.2" font-size="28" text-anchor="end" textLength="40.2" lengthAdjust="spacingAndGlyphs">2.5</text>
<text class="g" x="174.0" y="825.5" font-size="28" text-anchor="end" textLength="15.2" lengthAdjust="spacingAndGlyphs">2</text>
<text class="g" x="174.0" y="906.8" font-size="28" text-anchor="end" textLength="40.4" lengthAdjust="spacingAndGlyphs">1.5</text>
<text class="g" x="174.0" y="988.1" font-size="28" text-anchor="end" textLength="15.6" lengthAdjust="spacingAndGlyphs">1</text>
<text class="g" x="174.3" y="1069.4" font-size="28" text-anchor="end" textLength="41.5" lengthAdjust="spacingAndGlyphs">0.5</text>
<text class="g" x="176.5" y="1150.9" font-size="28" text-anchor="end" textLength="18.4" lengthAdjust="spacingAndGlyphs">0</text>
<path d="M207.4 737V1143.2" stroke="#000" stroke-width="2.8" fill="none"/>
<path d="M223.9 980.5V1016.8H260.6V980.5M296.9 980.5V872.8H333.6V980.5M367.8 980.5V966.0H404.0V980.5M440.1 980.5V966.2H477.1V980.5M511.0 980.5V954.9H547.8V980.5M584.0 980.5V855.9H621.5V980.5" stroke="#000" stroke-width="2.7" fill="none" stroke-linejoin="miter"/>
<path d="M206 980.5H637.8" stroke="#000" stroke-width="3" fill="none"/>
<path d="M243.3 1011.1V1024.0M237.1 1011.1H249.5M237.1 1024.0H249.5M315.0 826.4V919.3M308.8 826.4H321.2M308.8 919.3H321.2M387.0 965.5V965.5M380.8 965.5H393.2M380.8 965.5H393.2M458.5 936.7V996.5M452.3 936.7H464.7M452.3 996.5H464.7M530.5 852.6V1054.8M524.3 852.6H536.7M524.3 1054.8H536.7M601.9 793.3V919.1M595.7 793.3H608.1M595.7 919.1H608.1" stroke="#595959" stroke-width="2.3" fill="none"/>
<text x="243.7" y="1057.9" font-size="33" text-anchor="middle" stroke="#000" stroke-width="0.45">*</text>
<text x="317.2" y="819.6" font-size="33" text-anchor="middle" stroke="#000" stroke-width="0.45">*</text>
<text x="387.3" y="962.1" font-size="33" text-anchor="middle" stroke="#000" stroke-width="0.45">*</text>
<text x="601.0" y="786.0" font-size="33" text-anchor="middle" stroke="#000" stroke-width="0.45">*</text>
<text class="b g" transform="translate(52.8 1085) rotate(-90)" font-size="30" textLength="218" lengthAdjust="spacingAndGlyphs">YidC Expression</text>
<text class="b g" transform="translate(93.6 1067.5) rotate(-90)" font-size="30.6" textLength="185.5" lengthAdjust="spacingAndGlyphs">(Fold change)</text>
<text class="b g" transform="translate(249.9 1181.0) rotate(-45)" font-size="29.8" text-anchor="end" textLength="78.4" lengthAdjust="spacingAndGlyphs">H2O2</text>
<text class="b g" transform="translate(321.5 1181.2) rotate(-45)" font-size="29.8" text-anchor="end" textLength="71.4" lengthAdjust="spacingAndGlyphs">EtOH</text>
<text class="b g" transform="translate(394.5 1181.2) rotate(-45)" font-size="29.8" text-anchor="end" textLength="68.6" lengthAdjust="spacingAndGlyphs">Heat</text>
<text class="b g" transform="translate(464.5 1183.1) rotate(-45)" font-size="29.8" text-anchor="end" textLength="58.7" lengthAdjust="spacingAndGlyphs">Acid</text>
<text class="b g" transform="translate(536.8 1182.2) rotate(-45)" font-size="29.8" text-anchor="end" textLength="51.4" lengthAdjust="spacingAndGlyphs">PBS</text>
<text class="b g" transform="translate(608.1 1182.8) rotate(-45)" font-size="29.8" text-anchor="end" textLength="52.5" lengthAdjust="spacingAndGlyphs">SDS</text>
<text class="b" x="25.8" y="1314.8" font-size="33" textLength="21.5" lengthAdjust="spacingAndGlyphs">C</text>
<text class="g" x="184.4" y="1337.3" font-size="28.9" text-anchor="end" textLength="51.5" lengthAdjust="spacingAndGlyphs">100</text>
<text class="g" x="184.4" y="1421.7" font-size="28.9" text-anchor="end" textLength="34.1" lengthAdjust="spacingAndGlyphs">10</text>
<text class="g" x="184.4" y="1508.4" font-size="28.9" text-anchor="end" textLength="16.9" lengthAdjust="spacingAndGlyphs">1</text>
<text class="g" x="184.4" y="1593.3" font-size="28.9" text-anchor="end" textLength="42.7" lengthAdjust="spacingAndGlyphs">0.1</text>
<text class="g" x="184.4" y="1677.1" font-size="28.9" text-anchor="end" textLength="58.7" lengthAdjust="spacingAndGlyphs">0.01</text>
<text class="g" x="184.4" y="1761.7" font-size="28.9" text-anchor="end" textLength="75.6" lengthAdjust="spacingAndGlyphs">0.001</text>
<rect x="255.5" y="1498.6" width="36.9" height="139.5" fill="#4f81bd"/>
<rect x="300.9" y="1498.6" width="36.5" height="74.5" fill="#c0504d"/>
<rect x="416.2" y="1387.5" width="36.7" height="111.1" fill="#4f81bd"/>
<rect x="624.9" y="1466.2" width="36.2" height="32.4" fill="#c0504d"/>
<path d="M218 1329.8V1754.8" stroke="#000" stroke-width="3" fill="none"/>
<path d="M216.5 1498.6H699.2" stroke="#000" stroke-width="3" fill="none"/>
<path d="M274.0 1616.8V1692.7M268.2 1616.8H279.8M268.2 1692.7H279.8M320.5 1543.6V1572.1M313.9 1543.6H327.1M313.9 1572.1H327.1M434.7 1388.6V1388.6M428.9 1388.6H440.5M428.9 1388.6H440.5M641.5 1462.3V1470.6M634.5 1462.3H648.5M634.5 1470.6H648.5" stroke="#595959" stroke-width="2.4" fill="none"/>
<text x="272.7" y="1742.3" font-size="33" text-anchor="middle" stroke="#000" stroke-width="0.45">*</text>
<text x="320.0" y="1618.6" font-size="33" text-anchor="middle" stroke="#000" stroke-width="0.45">*</text>
<text x="434.7" y="1390.3" font-size="33" text-anchor="middle" stroke="#000" stroke-width="0.45">*</text>
<text x="644.2" y="1461.6" font-size="33" text-anchor="middle" stroke="#000" stroke-width="0.45">*</text>
<rect x="238.8" y="1339.5" width="16.8" height="16.9" fill="#4f81bd"/>
<text class="g" x="264.5" y="1356.4" font-size="28.2" textLength="65" lengthAdjust="spacingAndGlyphs">Heat</text>
<rect x="351.3" y="1339.5" width="20" height="16.9" fill="#c0504d"/>
<text class="g" x="378.4" y="1356.4" font-size="28.2" textLength="53" lengthAdjust="spacingAndGlyphs">SDS</text>
<text x="464.8" y="1486.9" font-size="20" textLength="32" lengthAdjust="spacingAndGlyphs">ND</text>
<text x="582.4" y="1487.3" font-size="20" textLength="32" lengthAdjust="spacingAndGlyphs">ND</text>
<text class="b" transform="translate(111 1599.5) rotate(-90)" font-size="23" textLength="186" lengthAdjust="spacingAndGlyphs">mRNA expression</text>
<text class="b" transform="translate(141.9 1536.5) rotate(-90)" font-size="23" textLength="60" lengthAdjust="spacingAndGlyphs">(Fold)</text>
<text class="g i" x="269" y="1806.5" font-size="28.9" textLength="56.2" lengthAdjust="spacingAndGlyphs">yidC</text>
<text class="g i" x="415.9" y="1806.5" font-size="28.9" textLength="84" lengthAdjust="spacingAndGlyphs">whiB6</text>
<text class="g i" x="590" y="1806.5" font-size="28.9" textLength="58" lengthAdjust="spacingAndGlyphs">sigB</text>
</svg>
</body></html>
